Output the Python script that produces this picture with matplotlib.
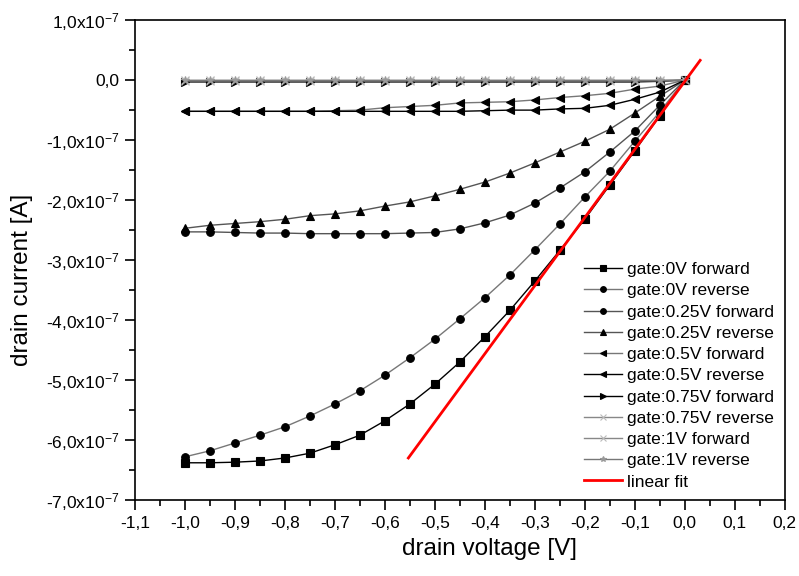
import matplotlib
matplotlib.use('Agg')
import matplotlib.pyplot as plt
from matplotlib.ticker import MultipleLocator

plt.rcParams['font.family'] = ['Liberation Sans', 'DejaVu Sans']
plt.rcParams['mathtext.fontset'] = 'custom'
plt.rcParams['mathtext.rm'] = 'Liberation Sans'
plt.rcParams['mathtext.it'] = 'Liberation Sans'

# drain voltage [V]
v = [-1.0, -0.95, -0.9, -0.85, -0.8, -0.75, -0.7, -0.65, -0.6, -0.55, -0.5,
     -0.45, -0.4, -0.35, -0.3, -0.25, -0.2, -0.15, -0.1, -0.05, 0.0]

# drain current, in units of 1e-7 A
g0_fwd = [-6.38, -6.38, -6.37, -6.35, -6.30, -6.22, -6.08, -5.92, -5.68, -5.40, -5.07,
          -4.70, -4.28, -3.84, -3.35, -2.84, -2.32, -1.75, -1.18, -0.60, 0.0]
g0_rev = [-6.28, -6.18, -6.05, -5.92, -5.78, -5.60, -5.40, -5.18, -4.92, -4.63, -4.32,
          -3.98, -3.63, -3.25, -2.83, -2.40, -1.95, -1.52, -1.02, -0.53, 0.0]
g025_fwd = [-2.53, -2.53, -2.54, -2.55, -2.55, -2.56, -2.56, -2.56, -2.56, -2.55, -2.54,
            -2.48, -2.38, -2.25, -2.05, -1.80, -1.53, -1.20, -0.85, -0.42, 0.0]
g025_rev = [-2.47, -2.42, -2.39, -2.36, -2.32, -2.26, -2.23, -2.18, -2.10, -2.03, -1.93,
            -1.82, -1.70, -1.55, -1.38, -1.20, -1.02, -0.82, -0.55, -0.27, 0.0]
g05_fwd = [-0.52, -0.52, -0.52, -0.52, -0.52, -0.52, -0.51, -0.50, -0.46, -0.44, -0.42,
           -0.38, -0.37, -0.36, -0.33, -0.29, -0.26, -0.22, -0.15, -0.10, 0.0]
g05_rev = [-0.52, -0.52, -0.52, -0.52, -0.52, -0.52, -0.52, -0.52, -0.52, -0.52, -0.52,
           -0.52, -0.51, -0.50, -0.50, -0.48, -0.47, -0.42, -0.32, -0.20, 0.0]
g075_fwd = [-0.03, -0.03, -0.03, -0.03, -0.03, -0.03, -0.03, -0.03, -0.03, -0.03, -0.03,
            -0.03, -0.03, -0.03, -0.03, -0.03, -0.03, -0.03, -0.03, -0.02, 0.0]
g075_rev = [-0.01, -0.01, -0.01, -0.01, -0.01, -0.01, -0.01, -0.01, -0.01, -0.01, -0.01,
            -0.01, -0.01, -0.01, -0.01, -0.01, -0.01, -0.01, -0.01, -0.01, 0.0]
g1_fwd = [-0.005] * 20 + [0.0]
g1_rev = [-0.005] * 20 + [0.0]

fit_v = [-0.553, 0.031]
fit_i = [-6.30, 0.33]

series = [
    ('gate:0V forward', g0_fwd, 's', 'black', 'black'),
    ('gate:0V reverse', g0_rev, 'o', '#777777', 'black'),
    ('gate:0.25V forward', g025_fwd, 'o', '#555555', 'black'),
    ('gate:0.25V reverse', g025_rev, '^', '#555555', 'black'),
    ('gate:0.5V forward', g05_fwd, '<', '#777777', 'black'),
    ('gate:0.5V reverse', g05_rev, '<', 'black', 'black'),
    ('gate:0.75V forward', g075_fwd, '>', 'black', 'black'),
    ('gate:0.75V reverse', g075_rev, 'x', '#888888', '#bbbbbb'),
    ('gate:1V forward', g1_fwd, 'x', '#888888', '#bbbbbb'),
    ('gate:1V reverse', g1_rev, '*', '#777777', '#999999'),
]

fig = plt.figure(figsize=(7.99, 5.76), dpi=100)
ax = fig.add_axes([0.169, 0.132, 0.813, 0.833])

for label, cur, mk, lc, mc in series:
    ax.plot(v, [c * 1e-7 for c in cur], color=lc, lw=1.0, marker=mk, markersize=5.5,
            markerfacecolor=mc, markeredgecolor=mc, markeredgewidth=0.8, label=label)
ax.plot(fit_v, [c * 1e-7 for c in fit_i], color='red', lw=2, label='linear fit')

ax.set_xlim(-1.1, 0.2)
ax.set_ylim(-7e-7, 1e-7)

xt = [-1.1, -1.0, -0.9, -0.8, -0.7, -0.6, -0.5, -0.4, -0.3, -0.2, -0.1, 0.0, 0.1, 0.2]
ax.set_xticks(xt)
ax.set_xticklabels([('%.1f' % t).replace('.', ',').replace('-0,0', '0,0') for t in xt])
yt = [1, 0, -1, -2, -3, -4, -5, -6, -7]
ax.set_yticks([t * 1e-7 for t in yt])
ax.set_yticklabels(['0,0' if t == 0 else ('%d,0x10$^{-7}$' % t) for t in yt])
ax.xaxis.set_minor_locator(MultipleLocator(0.05))
ax.yaxis.set_minor_locator(MultipleLocator(0.5e-7))

ax.tick_params(which='major', direction='out', length=7.5, width=1.2, labelsize=12.5,
               top=False, right=False, pad=4)
ax.tick_params(which='minor', direction='out', length=4.5, width=1.2, top=False, right=False)
for s in ax.spines.values():
    s.set_linewidth(1.2)

ax.set_xlabel('drain voltage [V]', fontsize=17.5, labelpad=5, x=0.546)
ax.set_ylabel('drain current [A]', fontsize=17.5, labelpad=9, y=0.458)

ax.legend(loc='lower right', frameon=False, fontsize=12.5, handlelength=2.2,
          labelspacing=0.35, handletextpad=0.3, borderaxespad=0.2, markerscale=0.75,
          bbox_to_anchor=(1.0, 0.0))

fig.savefig('out.png', dpi=100)
